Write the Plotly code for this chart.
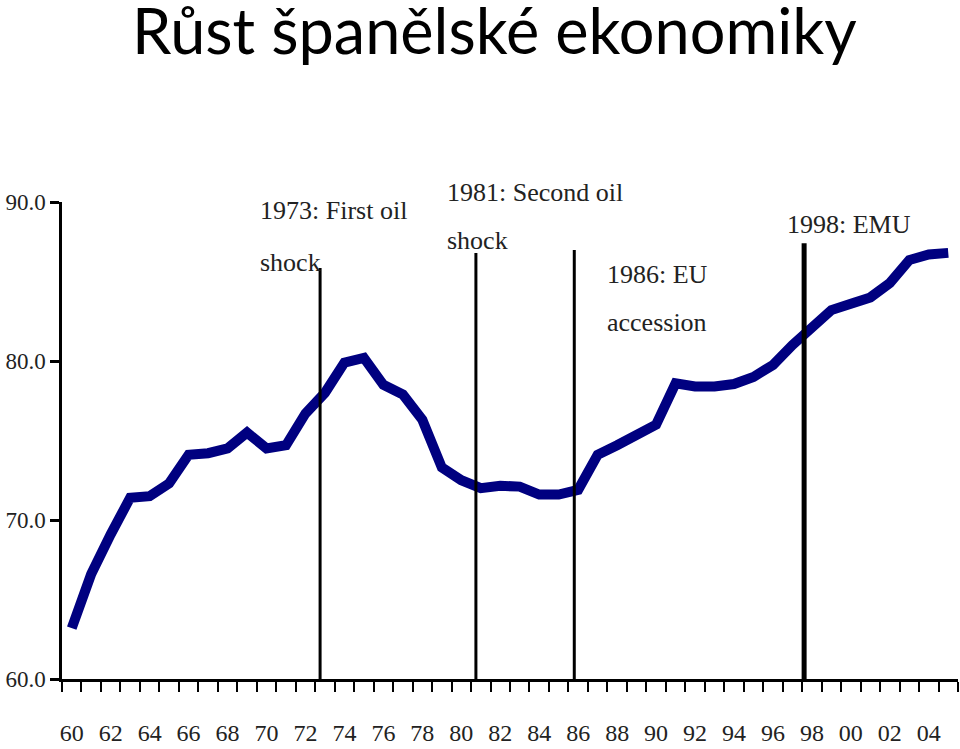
import plotly.graph_objects as go

years = list(range(1960, 2006))
values = [63.2, 66.6, 69.1, 71.4, 71.5, 72.3, 74.1, 74.2, 74.5, 75.5,
          74.5, 74.7, 76.7, 78.0, 79.9, 80.2, 78.5, 77.9, 76.3, 73.3,
          72.5, 72.0, 72.15, 72.1, 71.6, 71.6, 71.9, 74.1, 74.7, 75.35,
          76.0, 78.6, 78.4, 78.4, 78.55, 79.0, 79.75, 81.0, 82.2, 83.2,
          83.6, 84.0, 84.9, 86.35, 86.7, 86.8]

tick_years = list(range(1960, 2005, 2))
tick_labels = [str(y)[-2:] for y in tick_years]
y_ticks = [60, 70, 80, 90]
y_tick_labels = ["60.0", "70.0", "80.0", "90.0"]

event_x = [1972.75, 1980.75, 1985.8, 1997.6]
event_top = [85.85, 86.8, 86.98, 87.4]
event_widths = [3, 3, 3, 5]

# label text, x (year), y (paper fraction of plot height)
event_text = [
    ("1973: First oil", 1969.55, 0.983),
    ("shock", 1969.55, 0.874),
    ("1981: Second oil", 1979.15, 1.019),
    ("shock", 1979.15, 0.920),
    ("1986: EU", 1987.37, 0.847),
    ("accession", 1987.37, 0.748),
    ("1998: EMU", 1996.6, 0.952),
]

fig = go.Figure()
fig.add_trace(go.Scatter(x=years, y=values, mode="lines",
                         line=dict(color="#000080", width=10),
                         hoverinfo="skip", showlegend=False))

for xv, top, w in zip(event_x, event_top, event_widths):
    fig.add_shape(type="line", xref="x", yref="y", x0=xv, x1=xv, y0=60, y1=top,
                  line=dict(color="black", width=w), layer="above")

for txt, xv, yv in event_text:
    fig.add_annotation(x=xv, y=yv, xref="x", yref="paper", text=txt, showarrow=False,
                       xanchor="left", yanchor="middle",
                       font=dict(family="Liberation Serif", size=26, color="#222"))

fig.update_layout(
    width=960, height=749,
    margin=dict(l=62, r=2, t=202, b=70),
    paper_bgcolor="white", plot_bgcolor="white",
    title=dict(text="Růst španělské ekonomiky", x=0.515, xanchor="center",
               y=0.957, yanchor="middle",
               font=dict(family="Lato", size=63, color="black")),
    showlegend=False,
)
fig.update_xaxes(range=[1959.5, 2005.5], tickvals=tick_years, ticktext=tick_labels,
                 ticks="", showline=True, linecolor="black", linewidth=2.5,
                 showgrid=False, zeroline=False, ticklabelstandoff=30, automargin=False,
                 tickfont=dict(family="Liberation Serif", size=24, color="#222"),
                 minor=dict(ticks="outside", tick0=1959.5, dtick=1, ticklen=10,
                            tickwidth=2, tickcolor="black", showgrid=False))
fig.update_yaxes(range=[60, 90], tickvals=y_ticks, ticktext=y_tick_labels,
                 ticks="outside", ticklen=9, tickwidth=2.5, tickcolor="black",
                 showline=True, linecolor="black", linewidth=2.5, automargin=False,
                 showgrid=False, zeroline=False, ticklabelstandoff=0,
                 tickfont=dict(family="Liberation Serif", size=23, color="#222"))

fig.write_html("out.html")
